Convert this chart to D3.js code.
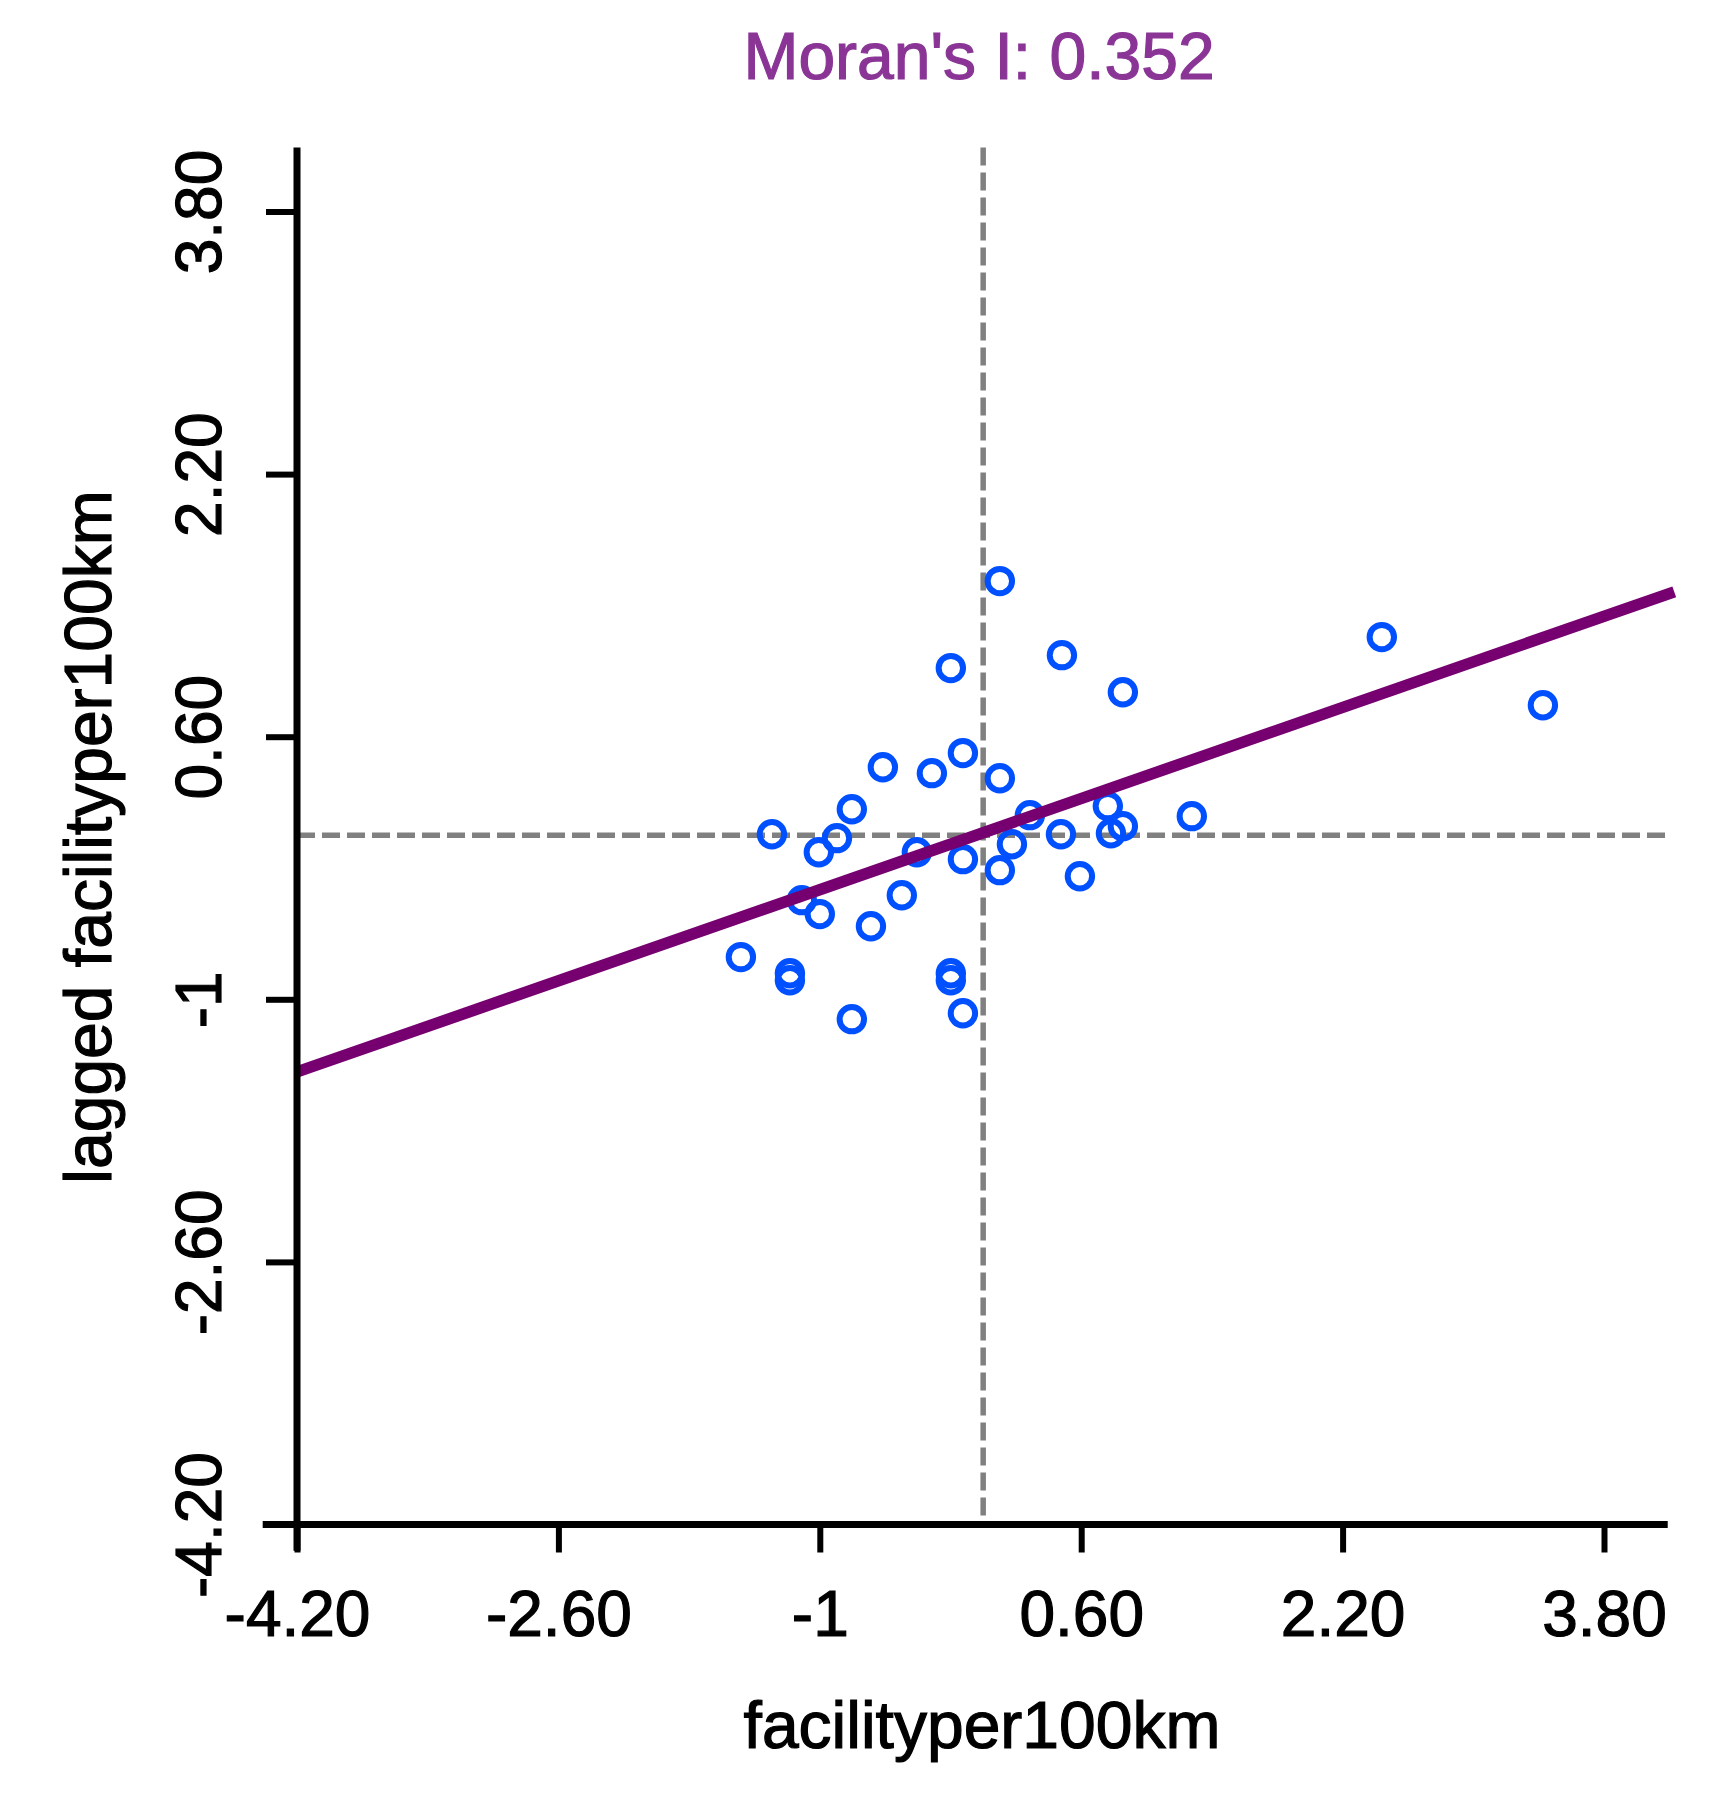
<!DOCTYPE html>
<html>
<head>
<meta charset="utf-8">
<script src="https://cdn.jsdelivr.net/npm/d3@7"></script>
<style>
  html, body { margin: 0; padding: 0; background: #ffffff; }
  svg { display: block; }
  text { font-family: "Liberation Sans", Arial, Helvetica, sans-serif; }
</style>
</head>
<body>
<svg id="chart" width="1719" height="1804"></svg>
<script>
// ---- data ----
const titleText = "Moran's I: 0.352";
const xLabel = "facilityper100km";
const yLabel = "lagged facilityper100km";
const tickValues = [-4.2, -2.6, -1, 0.6, 2.2, 3.8];
const tickLabels = ["-4.20", "-2.60", "-1", "0.60", "2.20", "3.80"];
// standardized variable (x) and its spatial lag (y)
const xVals = [0.102, -0.198, 0.482, 0.855, 2.440, 3.426, -0.124, -0.614, -0.314, 0.102,
               -0.804, -1.293, -0.895, -1.006, -0.406, -0.124, 0.176, 0.102, 0.286, 0.476,
               0.763, 0.782, 0.855, 1.277, 0.592, -0.498, -1.110, -1.000, -0.687, -1.483,
               -1.183, -1.183, -0.198, -0.198, -0.804, -0.124];
const yVals = [1.548, 1.018, 1.097, 0.871, 1.207, 0.792, 0.500, 0.414, 0.378, 0.347,
               0.158, 0.006, -0.018, -0.104, -0.104, -0.146, -0.055, -0.213, 0.122, 0.006,
               0.177, 0.012, 0.055, 0.116, -0.250, -0.366, -0.396, -0.481, -0.555, -0.743,
               -0.841, -0.884, -0.841, -0.884, -1.121, -1.085];
const regIntercept = 0.015;
const regSlope = 0.347;
const meanX = 0, meanY = 0;
const plotXRange = [-4.2, 4.23];
const plotYRange = [-4.2, 4.19];

// ---- scales ----
const x = d3.scaleLinear().domain([-4.2, 3.8]).range([297, 1604]);
const y = d3.scaleLinear().domain([-4.2, 3.8]).range([1524.5, 211.5]);

const svg = d3.select("#chart");
svg.append("rect").attr("width", 1719).attr("height", 1804).attr("fill", "#ffffff");

const axisColor = "#000000";

// dashed mean lines
svg.append("line")
  .attr("x1", x(meanX)).attr("x2", x(meanX))
  .attr("y1", y(plotYRange[1])).attr("y2", y(plotYRange[0]))
  .attr("stroke", "#808080").attr("stroke-width", 5.5).attr("stroke-dasharray", "18,7");
svg.append("line")
  .attr("x1", x(plotXRange[0])).attr("x2", x(4.19))
  .attr("y1", y(meanY)).attr("y2", y(meanY))
  .attr("stroke", "#808080").attr("stroke-width", 5.5).attr("stroke-dasharray", "18,7");

// points
svg.append("g").selectAll("circle")
  .data(xVals.map((v, i) => [v, yVals[i]]))
  .join("circle")
  .attr("cx", d => x(d[0]))
  .attr("cy", d => y(d[1]))
  .attr("r", 12.2)
  .attr("fill", "none")
  .attr("stroke", "#0050ff")
  .attr("stroke-width", 6);

// regression line
svg.append("line")
  .attr("x1", x(plotXRange[0])).attr("y1", y(regIntercept + regSlope * plotXRange[0]))
  .attr("x2", x(plotXRange[1])).attr("y2", y(regIntercept + regSlope * plotXRange[1]))
  .attr("stroke", "#770070").attr("stroke-width", 11.5);

const textStyle = sel => sel
  .attr("font-family", "'Liberation Sans', Arial, sans-serif")
  .attr("stroke-width", 1.2);

// x axis
const gx = svg.append("g").attr("transform", `translate(0,${y(-4.2)})`)
  .call(d3.axisBottom(x).tickValues(tickValues).tickFormat((d, i) => tickLabels[i]).tickSize(28));
gx.select(".domain").remove();
gx.selectAll(".tick line").attr("stroke", axisColor).attr("stroke-width", 6);
gx.selectAll(".tick text")
  .attr("y", 111).attr("dy", null)
  .attr("fill", "#000").attr("stroke", "#000").attr("font-size", 64)
  .call(textStyle);
svg.append("line")
  .attr("x1", x(-4.41)).attr("x2", x(4.19))
  .attr("y1", y(-4.2)).attr("y2", y(-4.2))
  .attr("stroke", axisColor).attr("stroke-width", 7);

// y axis
const gy = svg.append("g").attr("transform", `translate(${x(-4.2)},0)`)
  .call(d3.axisLeft(y).tickValues(tickValues).tickFormat((d, i) => tickLabels[i]).tickSize(31));
gy.select(".domain").remove();
gy.selectAll(".tick line").attr("stroke", axisColor).attr("stroke-width", 6);
gy.selectAll(".tick text")
  .attr("x", null).attr("dy", null)
  .attr("text-anchor", "middle")
  .attr("transform", `translate(${221 - x(-4.2)},0) rotate(-90)`)
  .attr("fill", "#000").attr("stroke", "#000").attr("font-size", 64)
  .call(textStyle);
svg.append("line")
  .attr("x1", x(-4.2)).attr("x2", x(-4.2))
  .attr("y1", y(4.19)).attr("y2", y(-4.36))
  .attr("stroke", axisColor).attr("stroke-width", 7);

// title and axis labels
svg.append("text")
  .attr("x", 979).attr("y", 79)
  .attr("text-anchor", "middle")
  .attr("font-size", 66)
  .attr("fill", "#8a3596").attr("stroke", "#8a3596")
  .call(textStyle)
  .text(titleText);

svg.append("text")
  .attr("x", 982).attr("y", 1748)
  .attr("text-anchor", "middle")
  .attr("font-size", 66)
  .attr("fill", "#000").attr("stroke", "#000")
  .call(textStyle)
  .text(xLabel);

svg.append("text")
  .attr("transform", "translate(111,837) rotate(-90)")
  .attr("text-anchor", "middle")
  .attr("font-size", 66)
  .attr("fill", "#000").attr("stroke", "#000")
  .call(textStyle)
  .text(yLabel);
</script>
</body>
</html>
